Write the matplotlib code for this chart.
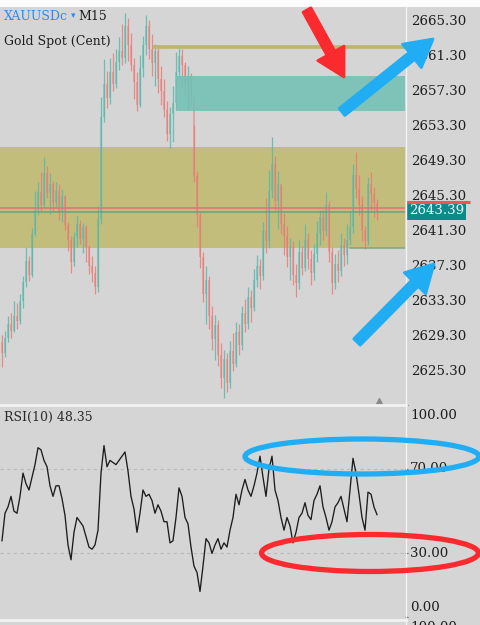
import numpy as np
import matplotlib
matplotlib.use("Agg")
import matplotlib.pyplot as plt
from matplotlib.patches import Rectangle, Ellipse, FancyArrow
from matplotlib.transforms import blended_transform_factory

# ---- data (XAUUSDc M15) ----
closes = [
    2627.2, 2629.0, 2630.5, 2629.8, 2631.5, 2630.9, 2633.2, 2635.4, 2637.8, 2636.2,
    2640.8, 2643.6, 2645.6, 2644.2, 2647.8, 2645.5, 2646.6, 2644.4, 2645.8, 2643.5,
    2645.2, 2641.9, 2640.2, 2637.6, 2640.5, 2642.0, 2640.3, 2641.6, 2639.4, 2637.2,
    2636.4, 2634.8, 2642.5, 2654.2, 2658.0, 2656.4, 2659.4, 2658.0, 2660.5, 2661.8,
    2661.0, 2664.6, 2662.4, 2660.2, 2658.2, 2655.6, 2659.8, 2662.4, 2664.6, 2662.0,
    2660.4, 2661.8, 2658.6, 2657.2, 2655.0, 2652.3, 2654.6, 2655.8, 2659.4, 2661.2,
    2660.2, 2658.0, 2658.9, 2656.6, 2647.5, 2643.0, 2638.2, 2634.0, 2635.6, 2631.5,
    2628.8, 2630.4, 2627.0, 2624.4, 2626.6, 2623.8, 2627.5, 2626.0, 2629.6, 2628.2,
    2631.8, 2630.6, 2633.6, 2632.4, 2635.6, 2637.2, 2636.0, 2641.2, 2640.0, 2645.8,
    2648.8, 2644.6, 2646.6, 2642.0, 2640.6, 2638.2, 2639.4, 2636.2, 2635.2, 2638.8,
    2637.0, 2640.2, 2638.0, 2636.4, 2638.6, 2641.0, 2642.8, 2641.2, 2644.2, 2638.8,
    2635.2, 2637.4, 2636.6, 2639.6, 2638.4, 2640.2, 2641.6, 2647.6, 2646.0, 2644.2,
    2641.2, 2640.0, 2646.6, 2645.4, 2644.4, 2643.39,
]
highs = [
    2629.3, 2629.8, 2631.5, 2631.8, 2633.2, 2632.9, 2634.0, 2636.0, 2639.3, 2638.3,
    2641.5, 2645.8, 2646.8, 2647.9, 2649.6, 2648.6, 2647.8, 2646.9, 2646.8, 2646.6,
    2646.0, 2645.3, 2642.2, 2640.6, 2641.1, 2643.0, 2642.4, 2642.1, 2641.9, 2639.6,
    2638.3, 2637.2, 2644.0, 2656.5, 2660.8, 2659.5, 2661.0, 2661.5, 2662.0, 2663.4,
    2664.8, 2666.1, 2665.5, 2663.8, 2661.0, 2659.4, 2661.3, 2663.5, 2665.9, 2665.3,
    2663.7, 2662.6, 2662.4, 2660.0, 2658.5, 2656.0, 2655.3, 2657.8, 2661.6, 2662.2,
    2662.0, 2660.5, 2660.0, 2659.2, 2653.3, 2648.0, 2643.4, 2638.8, 2637.2, 2636.0,
    2632.6, 2631.6, 2631.0, 2628.4, 2627.6, 2627.2, 2628.6, 2629.5, 2630.8, 2630.5,
    2632.6, 2633.4, 2634.8, 2634.4, 2636.8, 2638.4, 2638.0, 2642.2, 2645.0, 2648.2,
    2651.9, 2649.8, 2648.0, 2646.4, 2643.2, 2641.8, 2640.4, 2640.0, 2637.4, 2640.2,
    2639.5, 2642.0, 2641.0, 2639.0, 2639.7, 2642.3, 2643.6, 2643.6, 2645.6, 2644.6,
    2639.4, 2638.6, 2639.0, 2641.0, 2640.4, 2642.0, 2643.4, 2648.8, 2650.2, 2647.6,
    2645.2, 2641.8, 2647.4, 2647.9, 2646.2, 2644.8,
]
lows = [
    2625.6, 2626.8, 2628.5, 2628.9, 2629.6, 2630.0, 2630.5, 2632.4, 2634.8, 2635.5,
    2635.9, 2640.6, 2643.0, 2643.4, 2643.8, 2644.9, 2643.1, 2643.4, 2643.8, 2642.4,
    2642.2, 2641.3, 2638.9, 2636.4, 2637.2, 2639.4, 2639.7, 2638.7, 2637.6, 2636.3,
    2635.4, 2634.0, 2634.2, 2642.0, 2653.6, 2655.2, 2655.7, 2657.2, 2657.5, 2659.6,
    2660.2, 2660.4, 2660.6, 2659.5, 2656.3, 2654.9, 2655.4, 2658.8, 2661.3, 2660.8,
    2658.9, 2657.8, 2656.9, 2655.6, 2654.2, 2651.5, 2650.7, 2651.4, 2655.0, 2658.6,
    2657.6, 2656.8, 2655.0, 2655.6, 2646.8, 2641.6, 2636.9, 2633.1, 2630.6, 2630.0,
    2627.6, 2626.4, 2625.8, 2623.2, 2622.1, 2622.8, 2623.2, 2625.2, 2625.6, 2627.0,
    2627.6, 2629.6, 2630.0, 2630.8, 2632.0, 2634.8, 2634.6, 2635.6, 2638.7, 2639.2,
    2645.0, 2643.6, 2641.4, 2640.8, 2638.4, 2637.1, 2635.6, 2635.0, 2633.6, 2634.6,
    2636.2, 2636.6, 2636.8, 2635.0, 2635.6, 2637.6, 2639.6, 2640.2, 2640.6, 2637.6,
    2634.0, 2634.6, 2635.4, 2636.0, 2637.2, 2637.4, 2639.6, 2641.0, 2645.0, 2643.0,
    2640.0, 2639.1, 2639.6, 2643.6, 2642.8, 2642.4,
]
first_open = 2628.5

rsi = [
    36, 49, 52, 57, 50, 49, 57, 68, 63, 60,
    66, 72, 80, 79, 74, 71, 62, 57, 62, 62,
    56, 48, 34, 27, 40, 47, 45, 43, 38, 33,
    32, 34, 41, 68, 81, 71, 74, 73, 72, 74,
    76, 78, 69, 57, 51, 40, 49, 60, 57, 58,
    55, 49, 53, 50, 45, 45, 35, 36, 47, 61,
    57, 47, 44, 33, 24, 21, 12, 24, 37, 35,
    30, 34, 37, 32, 35, 33, 41, 47, 58, 53,
    60, 65, 60, 57, 62, 68, 76, 66, 57, 70,
    76, 60, 55, 47, 41, 47, 43, 35, 40, 47,
    49, 54, 48, 46, 55, 58, 62, 52, 47, 41,
    45, 52, 54, 57, 51, 45, 60, 75, 68, 58,
    47, 41, 59, 58, 52, 48.35,
]

price_ticks = [2625.3, 2629.3, 2633.3, 2637.3, 2641.3, 2645.3, 2649.3, 2653.3,
               2657.3, 2661.3, 2665.3]
rsi_levels = [100, 70, 30, 0]

supply_zone = (2654.9, 2658.9)      # teal box
range_zone = (2639.2, 2650.8)       # olive box
top_line = 2662.2
bid, ask = 2643.39, 2643.75

BG = "#d5d5d5"
SERIF = ["DejaVu Serif", "DejaVu Sans"]

fig = plt.figure(figsize=(4.8, 6.25), dpi=100, facecolor=BG)

# ---- price panel ----
ax = fig.add_axes([0, 1 - 404 / 625, 405 / 480, (404 - 8) / 625])
ax.set_facecolor(BG)
for s in ax.spines.values():
    s.set_visible(False)

x = np.arange(len(closes))
opens = np.array([first_open] + closes[:-1])
c = np.array(closes)
up = c >= opens
col = np.where(up, "#55b7aa", "#eb7873")

ax.axhspan(range_zone[0], range_zone[1], color="#c3bd7c", zorder=1, lw=0)
ax.vlines(x, lows, highs, colors=col, lw=0.9, alpha=0.8, zorder=2)
ax.bar(x, np.maximum(np.abs(c - opens), 0.15), bottom=np.minimum(c, opens),
       width=0.7, color=col, alpha=0.5, lw=0, zorder=2)

n = len(closes)
ax.add_patch(Rectangle((58, supply_zone[0]), 200, supply_zone[1] - supply_zone[0],
                       facecolor="#72c0b5", alpha=0.88, lw=0, zorder=3))
ax.plot([50.3, 200], [top_line] * 2, color="#bdb56d", lw=2.6, zorder=3,
        solid_capstyle="butt")
ax.axhline(ask, color="#e27272", lw=1.1, zorder=4)
ax.axhline(bid, color="#6f9e84", lw=1.1, zorder=4)
ax.plot([116, 200], [range_zone[0]] * 2, color="#7aa883", lw=1.1, zorder=4)

ax.set_xlim(-2 / 3, 403 / 3)
ax.set_ylim(2621.4, 2666.67)
ax.set_xticks([])
ax.yaxis.tick_right()
ax.set_yticks(price_ticks)
ax.set_yticklabels([f"{t:.2f}" for t in price_ticks], family=SERIF,
                   fontsize=9.6, color="#1e1e1e")
ax.tick_params(axis="y", length=0, pad=4.5)
ax.plot([n - 0.3], [2621.8], marker="^", ms=5, color="#8a8a8a", clip_on=False,
        zorder=5)

bt = blended_transform_factory(ax.transAxes, ax.transData)
ax.text(1.009, bid + 0.12, f"{bid:.2f}", transform=bt, ha="left", va="center",
        fontsize=9.6, family=SERIF, color="#eafafa", clip_on=False, zorder=6,
        bbox=dict(boxstyle="square,pad=0.2", fc="#0b8a8a", ec="none"))
ax.plot([1.004, 1.16], [bid + 1.05] * 2, transform=bt, color="#f05555", lw=2.2,
        clip_on=False, zorder=7, solid_capstyle="butt")

# ---- RSI panel ----
ax2 = fig.add_axes([0, 1 - 619 / 625, 405 / 480, (619 - 405) / 625])
ax2.set_facecolor(BG)
for s in ax2.spines.values():
    s.set_visible(False)
ax2.plot(np.arange(len(rsi)), rsi, color="#1c1c1c", lw=0.95, zorder=3)
for lv in (70, 30):
    ax2.axhline(lv, color="#b9b9b9", lw=0.8, ls=(0, (3, 3)), zorder=1)
ax2.set_xlim(-2 / 3, 403 / 3)
ax2.set_ylim(-1, 100.2)
ax2.set_xticks([])
ax2.yaxis.tick_right()
ax2.set_yticks(rsi_levels)
ax2.set_yticklabels([])
ax2.tick_params(axis="y", length=2.5, width=0.8, color="#555555")
bt2 = blended_transform_factory(ax2.transAxes, ax2.transData)
va_map = {100: "top", 70: "center", 30: "center", 0: "bottom"}
for lv in rsi_levels:
    ax2.text(1.012, lv + (-1.5 if lv == 100 else 1.5 if lv == 0 else 0),
             f"{lv:.2f}", transform=bt2, ha="left", va=va_map[lv],
             fontsize=9.6, family=SERIF, color="#1e1e1e", clip_on=False)

# ---- overlay: separators, labels, hand-drawn marks (pixel coords) ----
ov = fig.add_axes([0, 0, 1, 1])
ov.set_xlim(0, 480)
ov.set_ylim(625, 0)
ov.axis("off")
ov.patch.set_alpha(0)
ov.add_patch(Rectangle((0, 0), 480, 7, color="#fcfcfc", lw=0))
ov.plot([405.5, 405.5], [7, 625], color="#f2f2f2", lw=1.0)
ov.plot([0, 405.5], [404.5, 404.5], color="#f2f2f2", lw=2.0)
ov.plot([0, 405.5], [620, 620], color="#f2f2f2", lw=2.0)
# next panel's scale label, mostly cut off by the screenshot edge
ov.text(410, 621, "100.00", ha="left", va="top", fontsize=9.6, family=SERIF,
        color="#1e1e1e")

# symbol header: place each piece right after the previous one
renderer = fig.canvas.get_renderer()
t1 = ov.text(4, 17, "XAUUSDc", ha="left", va="center", fontsize=9,
             family=SERIF, color="#2a8cf0")
x_end = t1.get_window_extent(renderer).x1 * 480 / fig.bbox.width
t2 = ov.text(x_end + 3, 16, "▾", ha="left", va="center", fontsize=6.5,
             family=SERIF, color="#2a8cf0")
x_end = t2.get_window_extent(renderer).x1 * 480 / fig.bbox.width
ov.text(x_end + 3, 17, "M15", ha="left", va="center", fontsize=9,
        family=SERIF, color="#1e1e1e")
ov.text(4, 41, "Gold Spot (Cent)", ha="left", va="center", fontsize=9,
        family=SERIF, color="#1e1e1e")
ov.text(4, 417, "RSI(10) 48.35", ha="left", va="center", fontsize=9,
        family=SERIF, color="#2a2a2a")

RED = "#fb2a2e"
BLUE = "#20adf3"
for (x0, y0, x1, y1, colr) in [(307, 10, 344, 77, RED),
                               (342, 112, 433, 39, BLUE),
                               (357, 342, 434, 264, BLUE)]:
    ov.add_patch(FancyArrow(x0, y0, x1 - x0, y1 - y0, width=9, head_width=30,
                            head_length=27, length_includes_head=True,
                            color=colr, lw=2, joinstyle="round",
                            capstyle="round", zorder=10))

ov.add_patch(Ellipse((362, 456.5), 234, 35, fill=False, ec=BLUE, lw=3.8,
                     zorder=10))
ov.add_patch(Ellipse((370, 553), 217, 37, fill=False, ec=RED, lw=3.8,
                     zorder=10))

fig.savefig("out.png", dpi=100, facecolor=BG)
